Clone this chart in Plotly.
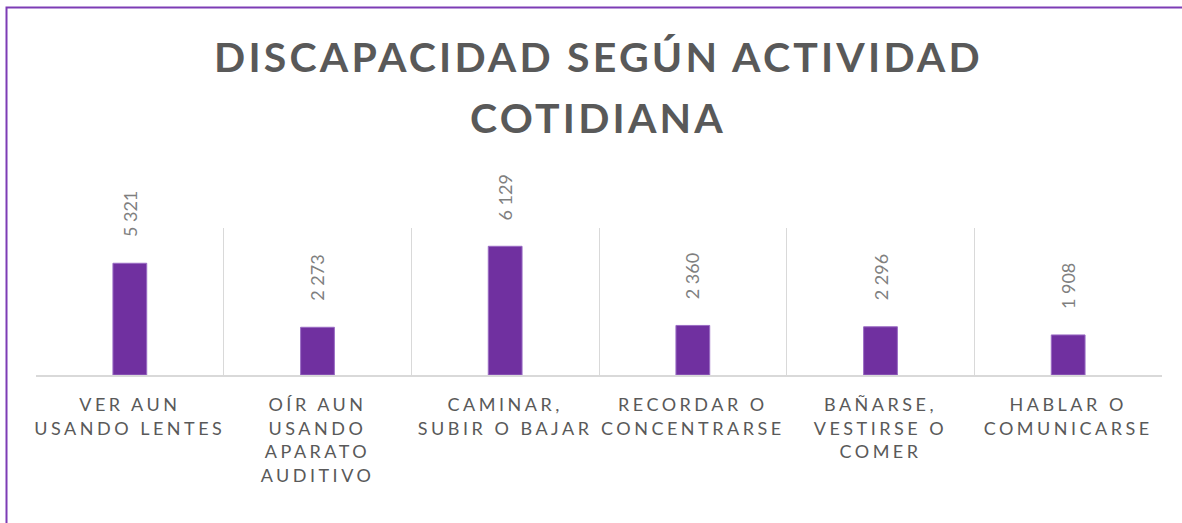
import plotly.graph_objects as go

# ---- data ----
categorias = [
    "VER AUN USANDO LENTES",
    "OÍR AUN USANDO APARATO AUDITIVO",
    "CAMINAR, SUBIR O BAJAR",
    "RECORDAR O CONCENTRARSE",
    "BAÑARSE, VESTIRSE O COMER",
    "HABLAR O COMUNICARSE",
]
etiquetas = [
    ["VER AUN", "USANDO LENTES"],
    ["OÍR AUN", "USANDO", "APARATO", "AUDITIVO"],
    ["CAMINAR,", "SUBIR O BAJAR"],
    ["RECORDAR O", "CONCENTRARSE"],
    ["BAÑARSE,", "VESTIRSE O", "COMER"],
    ["HABLAR O", "COMUNICARSE"],
]
valores = [5321, 2273, 6129, 2360, 2296, 1908]
titulo = ["DISCAPACIDAD SEGÚN ACTIVIDAD", "COTIDIANA"]

# ---- style ----
W, H = 1182, 523
L, R, T, B = 36, 20, 228, 148
PURPLE = "#7030A0"
FONT = "Lato"


def spaced(lines, ls):
    return "<br>".join(f'<span style="letter-spacing:{ls}px">{s}</span>' for s in lines)


def fmt(v):
    return f"{v:,}".replace(",", " ")


pw, ph = W - L - R, H - T - B


def px_to_paper_x(px):
    return (px - L) / pw


def px_to_paper_y(py):
    return (H - B - py) / ph


fig = go.Figure(
    go.Bar(
        x=categorias,
        y=valores,
        width=0.18,
        marker=dict(color=PURPLE, line=dict(color="#9a6cc4", width=1)),
        hoverinfo="skip",
    )
)

annotations = [
    dict(
        x=c, y=v, xref="x", yref="y", text=fmt(v), showarrow=False,
        textangle=-90, yanchor="bottom", xanchor="center", yshift=24,
        font=dict(family=FONT, size=18, color="#7f7f7f"),
    )
    for c, v in zip(categorias, valores)
]

# title lines (two annotations for Excel-like line spacing)
title_centers = [57, 117]
for line, yc in zip(titulo, title_centers):
    annotations.append(
        dict(
            x=px_to_paper_x(598), y=px_to_paper_y(yc), xref="paper", yref="paper",
            text=spaced([line], 3.2), showarrow=False,
            xanchor="center", yanchor="middle",
            font=dict(family=FONT, size=41, color="#595959", weight="bold"),
        )
    )

fig.update_layout(
    width=W,
    height=H,
    margin=dict(l=L, r=R, t=T, b=B, autoexpand=False),
    paper_bgcolor="white",
    plot_bgcolor="white",
    showlegend=False,
    xaxis=dict(
        type="category",
        tickmode="array",
        tickvals=categorias,
        ticktext=[spaced(e, 3.5) for e in etiquetas],
        tickfont=dict(family=FONT, size=18, color="#595959"),
        tickangle=0,
        ticklabelstandoff=13,
        tickson="boundaries",
        ticks="",
        showgrid=True,
        gridcolor="#d9d9d9",
        gridwidth=1,
        showline=True,
        linecolor="#d9d9d9",
        linewidth=1.5,
        range=[-0.5, 5.5],
        fixedrange=True,
    ),
    yaxis=dict(
        range=[0, 7000],
        showgrid=False,
        showticklabels=False,
        zeroline=False,
        showline=False,
        ticks="",
        fixedrange=True,
    ),
    annotations=annotations,
    shapes=[
        dict(
            type="rect", xref="paper", yref="paper",
            x0=px_to_paper_x(6.5), x1=px_to_paper_x(1195),
            y0=px_to_paper_y(540), y1=px_to_paper_y(7.5),
            line=dict(color="#7d3cb5", width=2),
            fillcolor="rgba(0,0,0,0)",
            layer="above",
        )
    ],
)

fig.write_html(
    "out.html",
    config={"displayModeBar": False},
    post_script="document.body.style.margin='0';document.body.style.padding='0';",
)
